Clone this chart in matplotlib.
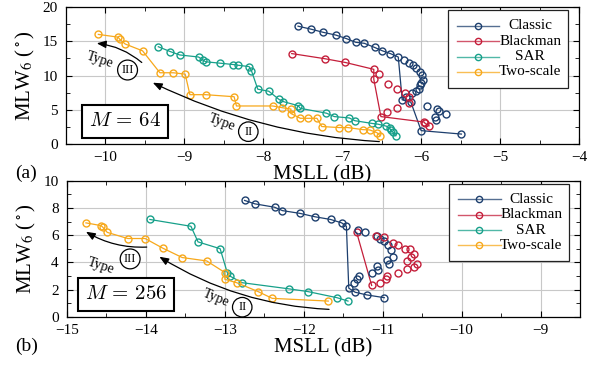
import matplotlib.pyplot as plt
from matplotlib.patches import Rectangle
from matplotlib.ticker import MultipleLocator

plt.rcParams.update({
    'font.family': ['Liberation Serif', 'DejaVu Serif'],
    'mathtext.fontset': 'stix',
    'font.size': 11,
    'xtick.direction': 'in',
    'ytick.direction': 'in',
    'xtick.top': True,
    'ytick.right': True,
    'xtick.major.size': 4.5,
    'ytick.major.size': 4.5,
    'xtick.minor.size': 3,
    'ytick.minor.size': 3,
    'xtick.minor.visible': True,
    'ytick.minor.visible': True,
    'axes.linewidth': 0.9,
})

methods = ['Classic', 'Blackman', 'SAR', 'Two-scale']
colors = ['#1d3f6e', '#c41e3a', '#17a08a', '#f7a81b']

# ---- M = 64 ----
classic64_x = [-7.56, -7.39, -7.24, -7.08, -6.95, -6.83, -6.72, -6.59, -6.49, -6.39, -6.29, -6.24, -6.13, -6.00, -5.49]
classic64_y = [17.2, 16.75, 16.3, 15.9, 15.4, 14.85, 14.7, 14.1, 13.6, 13.2, 12.7, 6.45, 6.1, 1.95, 1.45]
classic64_sx = [-6.22, -6.16, -6.10, -6.06, -6.01, -5.99, -5.98, -6.00, -6.01, -6.03, -6.07, -6.11, -6.19,
                -5.92, -5.80, -5.78, -5.68, -5.82, -5.81]
classic64_sy = [12.3, 11.8, 11.5, 11.1, 10.55, 10.1, 9.35, 8.95, 8.55, 8.1, 7.8, 7.4, 6.9,
                5.55, 5.05, 4.85, 4.45, 4.0, 3.5]

blackman64_x = [-7.64, -7.22, -6.96, -6.60, -6.60, -6.51, -5.96, -5.95, -5.90]
blackman64_y = [13.2, 12.45, 11.9, 10.9, 9.45, 4.0, 3.2, 3.0, 2.65]
blackman64_sx = [-6.54, -6.42, -6.30, -6.20, -6.15, -6.16, -6.30, -6.43]
blackman64_sy = [10.2, 8.8, 8.1, 7.4, 6.85, 6.0, 5.3, 4.65]

sar64_x = [-9.33, -9.18, -9.06, -8.82, -8.77, -8.73, -8.55, -8.38, -8.32, -8.18, -8.15, -8.07, -7.93, -7.80,
           -7.75, -7.56, -7.53, -7.20, -7.10, -6.91, -6.84, -6.62, -6.55, -6.44, -6.40, -6.38, -6.36, -6.32]
sar64_y = [14.2, 13.5, 13.0, 12.7, 12.3, 12.0, 11.8, 11.6, 11.5, 11.3, 10.7, 8.0, 7.7, 6.5,
           6.2, 5.6, 5.2, 4.5, 4.0, 3.8, 3.4, 3.0, 2.9, 2.6, 2.3, 2.0, 1.75, 1.2]

twoscale64_x = [-10.09, -9.84, -9.82, -9.75, -9.53, -9.31, -9.14, -8.99, -8.93, -8.73, -8.37, -8.34, -7.88,
                -7.76, -7.65, -7.65, -7.53, -7.43, -7.32, -7.26, -7.04, -6.93, -6.74, -6.65, -6.56, -6.52]
twoscale64_y = [16.0, 15.6, 15.3, 14.6, 13.6, 10.4, 10.4, 10.2, 7.2, 7.2, 6.9, 5.55, 5.55,
                5.3, 5.1, 4.45, 3.75, 3.75, 3.75, 2.55, 2.4, 2.4, 2.1, 2.05, 1.65, 1.2]

# ---- M = 256 ----
classic256_x = [-12.75, -12.62, -12.37, -12.27, -12.05, -11.86, -11.66, -11.52, -11.46, -11.43, -11.35, -11.20, -10.98]
classic256_y = [8.55, 8.3, 8.05, 7.8, 7.6, 7.35, 7.15, 6.9, 6.65, 2.1, 1.8, 1.6, 1.4]
classic256_sx = [-11.31, -11.22, -11.07, -11.04, -10.99, -10.93, -10.90, -10.87, -10.95, -10.92, -11.07, -11.06,
                 -11.13, -11.30, -11.33, -11.37]
classic256_sy = [6.4, 6.2, 5.95, 5.75, 5.6, 5.25, 4.9, 4.4, 4.15, 3.9, 3.7, 3.45, 3.25, 3.0, 2.75, 2.45]

blackman256_x = [-11.33, -11.14]
blackman256_y = [6.2, 2.3]
blackman256_sx = [-11.08, -10.99, -10.87, -10.81, -10.72, -10.65, -10.60, -10.64, -10.69, -10.56, -10.60, -10.69,
                  -10.81, -10.94, -10.96, -11.04]
blackman256_sy = [5.95, 5.85, 5.45, 5.25, 5.0, 4.95, 4.6, 4.4, 4.1, 3.85, 3.65, 3.5, 3.2, 3.0, 2.75, 2.5]

sar256_x = [-13.95, -13.43, -13.34, -13.06, -12.97, -12.94, -12.78, -12.19, -11.95, -11.58, -11.44]
sar256_y = [7.15, 6.65, 5.5, 5.0, 3.25, 3.0, 2.5, 2.05, 1.85, 1.4, 1.15]

twoscale256_x = [-14.76, -14.57, -14.55, -14.49, -14.23, -14.01, -13.79, -13.54, -13.23, -13.0, -13.0, -12.85,
                 -12.58, -12.40, -11.69]
twoscale256_y = [6.9, 6.7, 6.6, 6.2, 5.75, 5.75, 5.05, 4.35, 4.1, 3.25, 2.75, 2.5, 1.85, 1.35, 1.15]

panels = [
    dict(lines=[(classic64_x, classic64_y), (blackman64_x, blackman64_y), (sar64_x, sar64_y), (twoscale64_x, twoscale64_y)],
         extra=[(classic64_sx, classic64_sy), (blackman64_sx, blackman64_sy)],
         xlim=(-10.5, -4), ylim=(0, 20), xstep=1, ystep=5, label='$M\\,=\\,64$', tag='(a)',
         arrows=[((-9.54, 11.9), (-10.11, 14.7), 0.15), ((-6.53, 0.35), (-9.40, 8.95), -0.1)],
         types=[((-10.07, 12.3), -18, (-9.72, 10.8), 'III'), ((-8.53, 3.1), -20, (-8.19, 1.8), 'II')]),
    dict(lines=[(classic256_x, classic256_y), (blackman256_x, blackman256_y), (sar256_x, sar256_y), (twoscale256_x, twoscale256_y)],
         extra=[(classic256_sx, classic256_sy), (blackman256_sx, blackman256_sy)],
         xlim=(-15, -8.5), ylim=(0, 10), xstep=1, ystep=2, label='$M\\,=\\,256$', tag='(b)',
         arrows=[((-13.99, 5.12), (-14.76, 6.25), -0.15), ((-11.68, 0.54), (-13.83, 4.41), -0.13)],
         types=[((-14.57, 3.7), -18, (-14.2, 4.25), 'III'), ((-13.11, 1.35), -22, (-12.78, 0.7), 'II')]),
]

fig = plt.figure(figsize=(6.01, 3.65), dpi=100)
axes = [fig.add_axes([0.1098, 0.6055, 0.8536, 0.3753]),
        fig.add_axes([0.1115, 0.1323, 0.8536, 0.3726])]

for ax, p in zip(axes, panels):
    ax.set_xlim(*p['xlim'])
    ax.set_ylim(*p['ylim'])
    ax.xaxis.set_major_locator(MultipleLocator(p['xstep']))
    ax.xaxis.set_minor_locator(MultipleLocator(p['xstep'] / 2))
    ax.yaxis.set_major_locator(MultipleLocator(p['ystep']))
    ax.yaxis.set_minor_locator(MultipleLocator(p['ystep'] / 2))
    ax.grid(True, which='major', color='#c8c8c8', lw=0.8)
    ax.set_axisbelow(True)

    for (x, y), c in zip(p['lines'], colors):
        ax.plot(x, y, '-o', color=c, lw=0.9, ms=5, mfc='none', mew=1.0)
    for (x, y), c in zip(p['extra'], colors):
        ax.plot(x, y, 'o', color=c, ms=5, mfc='none', mew=1.0)

    for tail, head, rad in p['arrows']:
        ax.annotate('', xy=head, xytext=tail,
                    arrowprops=dict(arrowstyle='-|>,head_length=0.5,head_width=0.2',
                                    connectionstyle='arc3,rad=%g' % rad, color='black', lw=0.9,
                                    shrinkA=0, shrinkB=0))
    for pos, rot, cpos, num in p['types']:
        ax.text(*pos, 'Type', rotation=rot, fontsize=10, ha='center', va='center')
        ax.text(*cpos, num, fontsize=9, ha='center', va='center',
                bbox=dict(boxstyle='circle,pad=0.3', fc='white', ec='black', lw=0.9))

    ax.text(0.115, 0.163, p['label'], transform=ax.transAxes, fontsize=15, ha='center', va='center',
            math_fontfamily='cm',
            bbox=dict(boxstyle='square,pad=0.35', fc='white', ec='black', lw=1.5))

    # legend box
    ax.add_patch(Rectangle((0.745, 0.41), 0.234, 0.565, transform=ax.transAxes,
                           fc='white', ec='#222222', lw=0.9, zorder=5))
    for c, name, ly in zip(colors, methods, [0.862, 0.75, 0.637, 0.527]):
        ax.plot([0.762, 0.845], [ly, ly], color=c, lw=1.0, alpha=0.75, transform=ax.transAxes, zorder=6)
        ax.plot([0.804], [ly], 'o', color=c, ms=4.5, mfc='none', mew=1.0, transform=ax.transAxes, zorder=6)
        ax.text(0.905, ly, name, transform=ax.transAxes, fontsize=11, ha='center', va='center', zorder=6)

    ax.set_xlabel('MSLL (dB)', fontsize=15, labelpad=1)
    ax.set_ylabel('MLW$_6$ ($^\\circ$)', fontsize=15, labelpad=4)
    ax.tick_params(labelsize=11)
    ax.tick_params(axis='x', pad=5)
    ax.tick_params(axis='y', pad=6)
    fig.text(0.025, ax.get_position().y0 - 0.08, p['tag'], fontsize=14, va='center')

fig.savefig('out.png', dpi=100)
